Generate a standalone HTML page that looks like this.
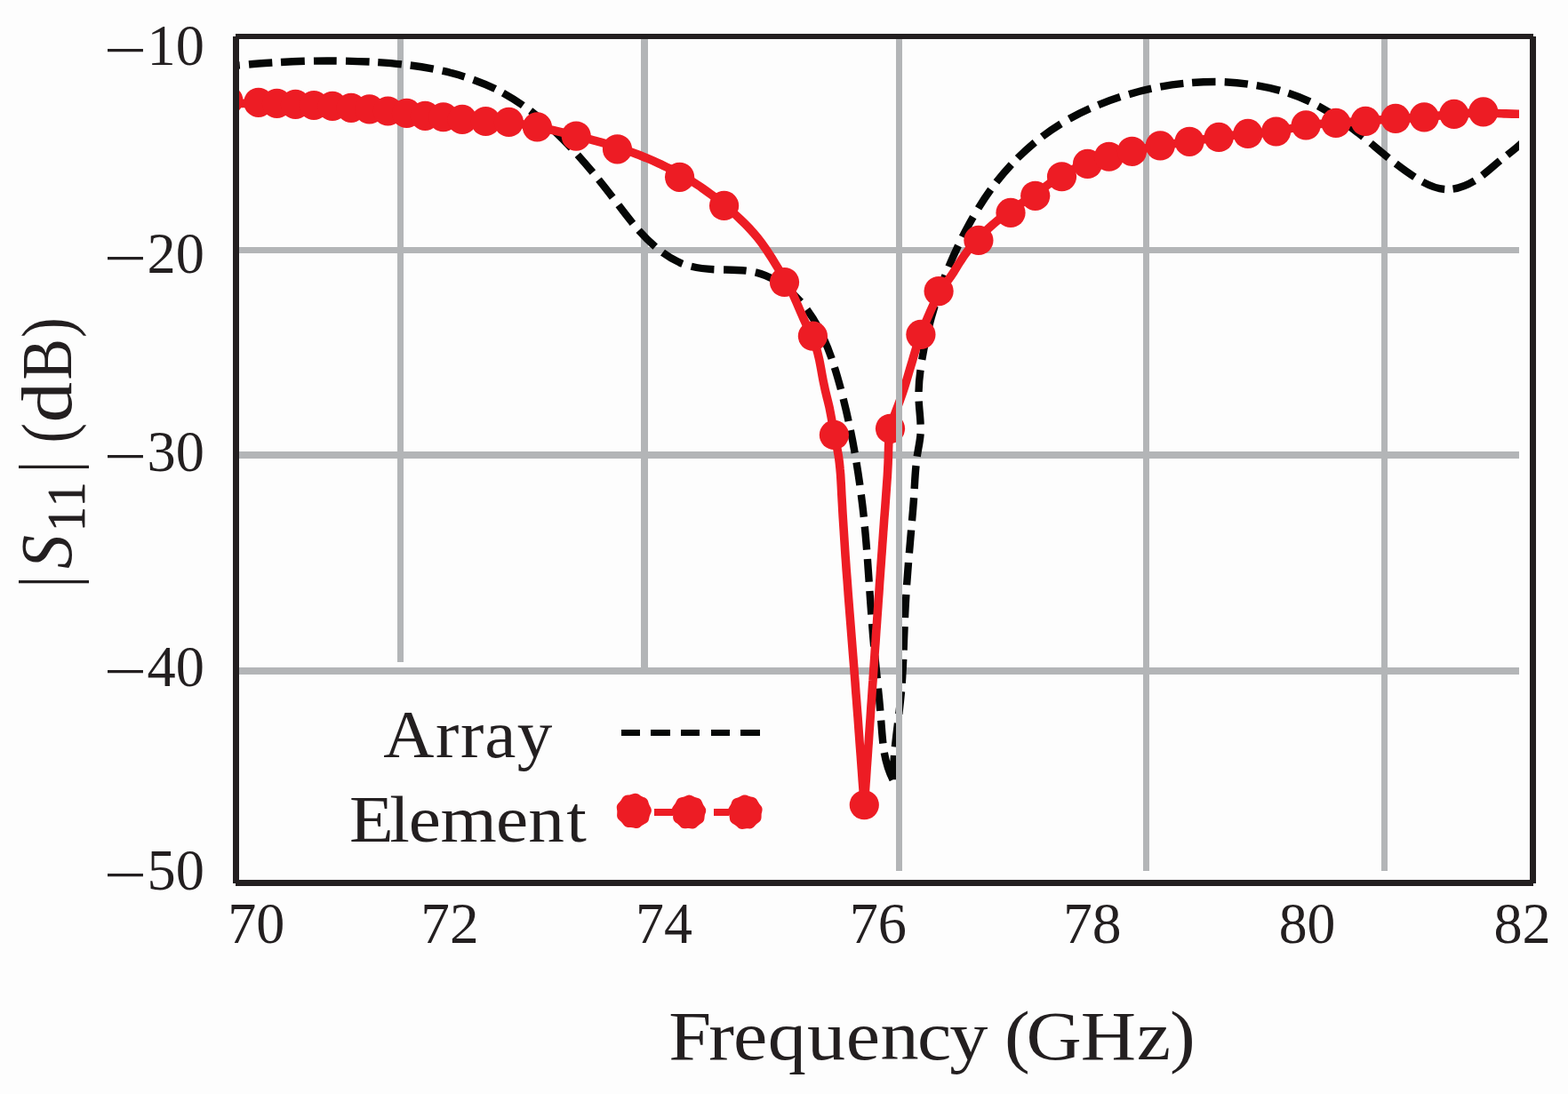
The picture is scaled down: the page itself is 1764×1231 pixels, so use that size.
<!DOCTYPE html>
<html lang="en">
<head>
<meta charset="utf-8">
<title>|S11| (dB) versus Frequency (GHz)</title>
<style>
html,body{margin:0;padding:0;background:#fdfdfd;}
body{width:1764px;height:1231px;overflow:hidden;}
svg{display:block;}
</style>
</head>
<body>
<svg width="1764" height="1231" viewBox="0 0 1764 1231" font-family="'Liberation Serif', serif" fill="#231f20">
<rect width="1764" height="1231" fill="#fdfdfd"/>
<defs><clipPath id="pc"><rect x="265" y="41" width="1444" height="953"/></clipPath></defs>
<g clip-path="url(#pc)">
<g fill="#b3b5b7">
<rect x="265" y="278" width="1444" height="7"/>
<rect x="265" y="508" width="1444" height="8"/>
<rect x="265" y="751" width="1444" height="8"/>
<rect x="447" y="42" width="7" height="703"/>
<rect x="721" y="42" width="8" height="717"/>
<rect x="1286" y="42" width="7" height="938"/>
<rect x="1554" y="42" width="7" height="938"/>
</g>
<path d="M243.6 75.9C252.3 75.0 261.0 74.1 269.8 73.4M280.0 72.5C288.7 71.7 297.5 71.1 306.3 70.5M316.0 70.0C324.9 69.5 333.9 69.1 342.8 68.8M353.0 68.6C361.6 68.4 370.1 68.4 378.7 68.5M389.0 68.6C397.8 68.8 406.7 69.1 415.6 69.5M425.2 70.1C434.1 70.7 443.0 71.4 451.9 72.4M461.7 73.5C470.4 74.6 479.0 76.0 487.6 77.6M497.7 79.7C506.1 81.6 514.4 83.8 522.7 86.4M532.5 89.7C540.9 92.7 549.2 96.1 557.2 100.1M565.9 104.6C573.6 108.9 581.1 113.5 588.3 118.6M596.7 124.7C603.6 129.9 610.3 135.4 616.8 141.2M624.5 148.2C630.8 154.2 636.9 160.3 642.8 166.6M649.8 174.2C655.6 180.7 661.3 187.3 666.9 194.0M673.5 202.1C678.8 208.7 684.1 215.4 689.2 222.1M695.9 230.8C701.1 237.7 706.4 244.6 711.9 251.3M718.6 259.2C724.4 265.7 730.6 271.9 737.2 277.6M745.5 284.2C752.4 289.3 759.8 293.7 767.8 296.8M777.7 299.8C786.1 301.9 794.8 302.8 803.4 303.2M814.1 303.5C822.6 303.6 831.1 303.6 839.6 304.6M849.8 306.4C858.2 308.4 866.3 311.9 873.7 316.4M881.8 321.8C888.7 327.0 895.1 333.0 900.8 339.5M907.8 348.2C913.0 355.1 917.6 362.6 921.6 370.2M926.1 379.4C929.7 387.3 932.9 395.4 935.7 403.5M938.9 413.4C941.5 421.6 943.8 429.8 946.0 438.0M948.7 448.8C950.8 457.1 952.8 465.5 954.6 474.0M956.8 484.2C958.6 492.7 960.2 501.2 961.7 509.7M963.5 520.4C964.9 528.9 966.2 537.5 967.4 546.0M968.8 556.6C969.9 565.0 970.9 573.4 971.8 581.8M972.8 592.5C973.7 601.2 974.4 610.0 975.1 618.7M975.9 629.0C976.5 637.6 977.1 646.1 977.7 654.7M978.4 665.0C979.0 673.8 979.6 682.7 980.3 691.5M981.1 702.0C981.7 710.5 982.4 718.9 983.2 727.4M984.2 737.6C985.0 746.2 985.9 754.8 986.8 763.4M987.9 774.6C988.8 783.0 989.6 791.4 990.3 799.9M991.2 810.7C991.9 819.3 992.4 827.9 993.4 836.5M994.8 846.9C996.7 857.4 999.7 867.8 1004.5 877.3M1004.6 877.2C1004.7 868.1 1005.2 859.0 1006.0 850.0M1006.9 840.5C1007.8 831.6 1008.9 822.6 1010.0 813.7M1011.3 803.5C1012.3 795.1 1013.2 786.7 1014.0 778.2M1014.7 768.7C1015.4 759.8 1015.8 750.8 1016.2 741.8M1016.6 731.6C1016.9 722.8 1017.2 713.9 1017.6 705.1M1018.0 695.1C1018.4 686.4 1018.9 677.6 1019.4 668.9M1020.1 658.2C1020.7 649.8 1021.3 641.4 1022.0 633.0M1022.9 622.3C1023.6 613.7 1024.4 605.1 1025.1 596.5M1026.0 586.0C1026.8 577.4 1027.5 568.8 1028.1 560.1M1028.7 549.9C1029.2 541.3 1029.6 532.6 1030.5 524.0M1031.7 513.6C1033.0 505.1 1035.0 496.7 1035.6 488.1M1035.6 477.7C1035.3 468.9 1034.1 460.2 1033.7 451.5M1033.5 441.0C1033.7 432.8 1034.4 424.6 1035.5 416.4M1037.2 404.8C1038.6 396.3 1040.3 387.8 1042.2 379.3M1044.6 369.2C1046.7 360.8 1049.0 352.5 1051.6 344.2M1054.7 334.3C1057.4 326.0 1060.4 317.9 1063.5 309.8M1067.4 300.2C1070.7 292.2 1074.3 284.2 1078.0 276.4M1082.7 266.7C1086.5 259.1 1090.6 251.5 1094.8 244.1M1100.6 234.4C1105.0 227.2 1109.7 220.1 1114.6 213.3M1120.9 204.9C1126.2 198.1 1131.9 191.5 1137.8 185.1M1144.8 177.9C1151.0 171.7 1157.5 165.8 1164.2 160.2M1172.5 153.7C1179.2 148.5 1186.3 143.7 1193.5 139.3M1202.9 133.7C1210.5 129.5 1218.2 125.6 1226.1 122.1M1235.6 118.1C1243.7 114.8 1251.9 111.8 1260.2 109.1M1270.1 106.1C1278.4 103.7 1286.8 101.5 1295.3 99.7M1305.4 97.7C1314.0 96.1 1322.7 94.8 1331.4 93.9M1341.1 93.0C1349.9 92.3 1358.7 92.0 1367.5 92.0M1377.7 92.3C1386.5 92.7 1395.2 93.4 1403.8 94.6M1413.7 96.1C1422.5 97.6 1431.3 99.5 1439.9 101.9M1449.4 104.8C1457.7 107.5 1465.7 110.7 1473.6 114.4M1482.9 119.2C1490.6 123.3 1498.0 127.9 1505.1 132.8M1513.2 138.5C1520.3 143.5 1527.1 148.9 1533.8 154.3M1542.1 161.1C1548.8 166.7 1555.4 172.3 1562.1 177.7M1570.3 184.2C1577.2 189.5 1584.2 194.6 1591.5 199.3M1600.4 204.6C1608.1 208.8 1616.4 212.3 1625.2 213.0M1634.6 212.7C1643.2 211.4 1651.4 207.9 1658.9 203.4M1667.6 197.4C1674.5 192.1 1680.8 186.3 1687.5 180.8M1695.6 174.5C1702.5 169.1 1709.4 163.7 1715.6 157.4" fill="none" stroke="#050706" stroke-width="8.4"/>
<path d="M258.0 116.8C262.7 116.6 267.3 116.5 272.0 116.4C276.7 116.3 281.4 116.2 286.0 116.2C290.7 116.2 295.4 116.2 300.1 116.3C304.7 116.3 309.4 116.4 314.1 116.6C318.7 116.7 323.4 116.9 328.1 117.1C332.8 117.2 337.4 117.5 342.1 117.7C346.8 117.9 351.4 118.2 356.1 118.5C360.8 118.8 365.4 119.1 370.1 119.4C374.8 119.7 379.4 120.0 384.1 120.4C388.7 120.7 393.4 121.1 398.1 121.5C402.7 121.8 407.4 122.2 412.0 122.7C416.7 123.1 421.3 123.5 426.0 124.0C430.6 124.4 435.3 124.9 439.9 125.4C444.6 125.9 449.2 126.5 453.9 127.0C458.5 127.5 463.2 128.1 467.8 128.6C472.4 129.2 477.1 129.7 481.7 130.3C486.4 130.8 491.0 131.4 495.6 131.9C500.3 132.4 504.9 132.9 509.6 133.3C514.2 133.8 518.9 134.2 523.6 134.6C528.2 135.0 532.9 135.4 537.5 135.7C542.2 136.0 546.9 136.3 551.5 136.6C556.2 136.8 560.9 137.1 565.5 137.4C570.2 137.8 574.8 138.2 579.5 138.8C584.1 139.3 588.7 140.0 593.4 140.8C598.0 141.6 602.6 142.4 607.1 143.3C611.7 144.3 616.3 145.3 620.9 146.3C625.4 147.3 630.0 148.4 634.5 149.5C639.1 150.5 643.6 151.6 648.1 152.7C652.7 153.9 657.2 155.0 661.7 156.2C666.2 157.4 670.8 158.6 675.3 159.9C679.8 161.2 684.2 162.5 688.7 163.9C693.2 165.2 697.6 166.7 702.0 168.2C706.5 169.7 710.9 171.3 715.2 172.9C719.6 174.6 724.0 176.3 728.3 178.1C732.6 179.9 736.9 181.8 741.1 183.8C745.3 185.7 749.5 187.8 753.7 189.9C757.9 192.1 762.0 194.3 766.0 196.6C770.1 198.9 774.1 201.3 778.1 203.8C782.0 206.3 785.9 208.8 789.8 211.5C793.6 214.2 797.4 216.9 801.1 219.7C804.9 222.5 808.5 225.4 812.1 228.4C815.7 231.4 819.3 234.4 822.8 237.5C826.3 240.6 829.8 243.8 833.1 247.0C836.5 250.2 839.8 253.5 843.0 256.9C846.2 260.3 849.3 263.8 852.3 267.5C855.2 271.1 858.0 274.9 860.6 278.7C863.3 282.6 865.8 286.5 868.3 290.4C870.8 294.4 873.2 298.4 875.7 302.4C878.1 306.4 880.6 310.3 882.9 314.4C885.3 318.4 887.6 322.5 889.8 326.6C891.9 330.8 893.9 335.0 895.7 339.3C897.6 343.6 899.4 347.9 901.2 352.2C903.0 356.5 904.9 360.8 907.0 365.0C909.1 369.2 911.3 373.3 913.2 377.5C915.2 381.8 916.8 386.2 918.1 390.7C919.5 395.1 920.6 399.7 921.6 404.2C922.5 408.8 923.4 413.4 924.2 418.0C925.0 422.6 925.8 427.2 926.8 431.8C927.7 436.4 928.7 440.9 929.9 445.5C931.0 450.0 932.2 454.5 933.2 459.1C934.1 463.7 935.0 468.3 935.8 472.9C936.6 477.5 937.4 482.1 938.2 486.7C939.1 491.3 940.0 495.9 941.0 500.4C941.9 505.0 942.8 509.6 943.5 514.2C944.2 518.8 944.7 523.5 945.1 528.2C945.6 532.8 945.9 537.5 946.1 542.1C946.4 546.8 946.6 551.5 946.8 556.1C947.1 560.8 947.3 565.5 947.6 570.1C947.8 574.8 948.1 579.5 948.4 584.1C948.7 588.8 949.0 593.5 949.3 598.1C949.6 602.8 949.9 607.5 950.2 612.1C950.5 616.8 950.8 621.5 951.1 626.1C951.5 630.8 951.8 635.4 952.1 640.1C952.5 644.8 952.8 649.4 953.2 654.1C953.5 658.7 953.9 663.4 954.2 668.1C954.6 672.7 954.9 677.4 955.3 682.1C955.7 686.7 956.0 691.4 956.4 696.0C956.8 700.7 957.1 705.3 957.5 710.0C957.9 714.7 958.2 719.3 958.6 724.0C959.0 728.6 959.3 733.3 959.7 738.0C960.1 742.6 960.4 747.3 960.8 751.9C961.2 756.6 961.5 761.3 961.9 765.9C962.2 770.6 962.6 775.2 962.9 779.9C963.3 784.6 963.7 789.2 964.0 793.9C964.4 798.5 964.7 803.2 965.1 807.9C965.4 812.5 965.8 817.2 966.1 821.9C966.5 826.5 966.8 831.2 967.1 835.8C967.5 840.5 967.8 845.2 968.2 849.8C968.5 854.5 968.9 859.1 969.2 863.8C969.6 868.5 969.9 873.1 970.2 877.8C970.6 882.4 970.9 887.1 971.3 891.8C971.6 896.4 972.0 901.1 972.3 905.8C972.6 901.1 973.0 896.4 973.3 891.8C973.6 887.1 973.9 882.5 974.3 877.8C974.6 873.2 974.9 868.5 975.2 863.8C975.5 859.2 975.9 854.5 976.2 849.9C976.5 845.2 976.8 840.6 977.2 835.9C977.5 831.3 977.8 826.6 978.1 821.9C978.4 817.3 978.8 812.6 979.1 808.0C979.4 803.3 979.7 798.7 980.0 794.0C980.4 789.4 980.7 784.7 981.0 780.0C981.3 775.4 981.6 770.7 982.0 766.1C982.3 761.4 982.6 756.8 982.9 752.1C983.3 747.5 983.6 742.8 983.9 738.1C984.2 733.5 984.5 728.8 984.9 724.2C985.2 719.5 985.5 714.9 985.8 710.2C986.2 705.6 986.5 700.9 986.8 696.2C987.1 691.6 987.5 686.9 987.8 682.3C988.1 677.6 988.4 673.0 988.8 668.3C989.1 663.7 989.4 659.0 989.7 654.3C990.1 649.7 990.4 645.0 990.7 640.4C991.1 635.7 991.4 631.1 991.7 626.4C992.1 621.8 992.4 617.1 992.7 612.4C993.1 607.8 993.4 603.1 993.7 598.5C994.1 593.8 994.4 589.2 994.7 584.5C995.1 579.9 995.4 575.2 995.8 570.6C996.1 565.9 996.5 561.2 996.8 556.6C997.1 551.9 997.5 547.3 997.8 542.6C998.2 538.0 998.5 533.3 998.7 528.7C999.0 524.0 999.2 519.3 999.3 514.7C999.5 510.0 999.5 505.3 999.7 500.7C999.9 496.0 1000.2 491.3 1000.9 486.7C1001.6 482.1 1002.8 477.6 1004.2 473.1C1005.6 468.7 1007.3 464.3 1008.9 460.0C1010.6 455.6 1012.3 451.2 1013.8 446.8C1015.3 442.4 1016.8 438.0 1018.2 433.5C1019.6 429.1 1020.9 424.6 1022.2 420.1C1023.5 415.7 1024.8 411.2 1026.2 406.7C1027.5 402.2 1028.8 397.8 1030.2 393.3C1031.6 388.9 1033.1 384.4 1034.7 380.0C1036.2 375.6 1037.9 371.3 1039.6 366.9C1041.4 362.6 1043.2 358.3 1045.1 354.0C1046.9 349.8 1048.9 345.5 1050.8 341.3C1052.8 337.0 1054.8 332.8 1057.2 328.8C1059.6 324.8 1062.3 321.0 1065.1 317.3C1067.9 313.5 1070.6 309.7 1073.1 305.8C1075.6 301.8 1077.9 297.8 1080.5 293.9C1083.0 289.9 1085.7 286.1 1088.5 282.4C1091.4 278.7 1094.4 275.1 1097.5 271.7C1100.6 268.2 1103.8 264.8 1107.2 261.6C1110.5 258.3 1114.0 255.2 1117.5 252.1C1121.1 249.1 1124.7 246.2 1128.4 243.3C1132.1 240.5 1135.9 237.8 1139.8 235.1C1143.6 232.5 1147.5 229.9 1151.4 227.3C1155.3 224.8 1159.2 222.2 1163.0 219.5C1166.8 216.8 1170.6 214.0 1174.3 211.3C1178.1 208.5 1181.8 205.7 1185.7 203.1C1189.5 200.4 1193.4 197.9 1197.5 195.6C1201.5 193.3 1205.7 191.1 1209.9 189.2C1214.2 187.2 1218.5 185.5 1222.9 183.8C1227.2 182.2 1231.6 180.6 1236.1 179.2C1240.5 177.8 1245.0 176.6 1249.5 175.4C1254.1 174.2 1258.6 173.1 1263.1 172.1C1267.7 171.0 1272.3 170.1 1276.8 169.2C1281.4 168.3 1286.0 167.4 1290.6 166.6C1295.2 165.8 1299.8 165.0 1304.4 164.2C1309.0 163.5 1313.6 162.8 1318.2 162.1C1322.9 161.4 1327.5 160.7 1332.1 160.0C1336.7 159.4 1341.3 158.7 1346.0 158.0C1350.6 157.4 1355.2 156.7 1359.8 156.1C1364.4 155.4 1369.1 154.7 1373.7 154.1C1378.3 153.4 1382.9 152.8 1387.5 152.2C1392.2 151.6 1396.8 151.0 1401.5 150.6C1406.1 150.2 1410.8 150.0 1415.4 149.7C1420.1 149.5 1424.7 149.2 1429.4 148.7C1434.0 148.3 1438.6 147.5 1443.2 146.6C1447.8 145.7 1452.3 144.6 1456.9 143.6C1461.5 142.6 1466.0 141.7 1470.6 141.0C1475.3 140.3 1479.9 139.9 1484.6 139.5C1489.2 139.2 1493.9 139.0 1498.5 138.8C1503.2 138.5 1507.9 138.2 1512.5 137.9C1517.2 137.5 1521.8 137.2 1526.5 136.8C1531.1 136.4 1535.8 136.1 1540.4 135.7C1545.1 135.4 1549.8 135.1 1554.4 134.8C1559.1 134.5 1563.7 134.3 1568.4 134.0C1573.0 133.7 1577.7 133.4 1582.4 133.1C1587.0 132.8 1591.7 132.5 1596.3 132.1C1601.0 131.8 1605.6 131.4 1610.3 130.9C1614.9 130.5 1619.6 130.0 1624.2 129.6C1628.9 129.1 1633.5 128.7 1638.2 128.3C1642.8 128.0 1647.5 127.6 1652.1 127.4C1656.8 127.1 1661.4 127.0 1666.1 127.0C1670.8 127.0 1675.4 127.1 1680.1 127.3C1684.8 127.4 1689.4 127.7 1694.1 127.9C1698.8 128.1 1703.4 128.2 1708.1 128.2C1712.8 128.2 1717.4 128.1 1722.1 127.7" fill="none" stroke="#ed1c24" stroke-width="9.6" stroke-linejoin="miter"/>
<g fill="#ed1c24">
<circle cx="256.8" cy="112.9" r="16.6"/>
<circle cx="290.8" cy="115.3" r="16.6"/>
<circle cx="311.5" cy="116.4" r="16.6"/>
<circle cx="332.4" cy="117.4" r="16.6"/>
<circle cx="353.1" cy="118.5" r="16.6"/>
<circle cx="374.0" cy="119.4" r="16.6"/>
<circle cx="395.0" cy="121.3" r="16.6"/>
<circle cx="415.6" cy="122.9" r="16.6"/>
<circle cx="436.4" cy="125.0" r="16.6"/>
<circle cx="457.5" cy="127.4" r="16.6"/>
<circle cx="478.3" cy="130.3" r="16.6"/>
<circle cx="498.75" cy="131.75" r="16.6"/>
<circle cx="520.0" cy="134.4" r="16.6"/>
<circle cx="546.4" cy="136.5" r="16.6"/>
<circle cx="572.4" cy="137.4" r="16.6"/>
<circle cx="604.4" cy="142.9" r="16.6"/>
<circle cx="648.2" cy="153.1" r="16.6"/>
<circle cx="694.5" cy="167.8" r="16.6"/>
<circle cx="764.6" cy="199.3" r="16.6"/>
<circle cx="814.6" cy="231.4" r="16.6"/>
<circle cx="882.5" cy="317.5" r="16.6"/>
<circle cx="914.4" cy="378.2" r="16.6"/>
<circle cx="938.4" cy="489.4" r="16.6"/>
<circle cx="972.3" cy="905.75" r="16.6"/>
<circle cx="1001.5" cy="482.3" r="16.6"/>
<circle cx="1035.9" cy="376.4" r="16.6"/>
<circle cx="1056.1" cy="327.6" r="16.6"/>
<circle cx="1100.9" cy="270.4" r="16.6"/>
<circle cx="1137.0" cy="239.4" r="16.6"/>
<circle cx="1164.7" cy="220.3" r="16.6"/>
<circle cx="1194.5" cy="198.75" r="16.6"/>
<circle cx="1223.5" cy="184.4" r="16.6"/>
<circle cx="1247.6" cy="176.25" r="16.6"/>
<circle cx="1273.5" cy="170.3" r="16.6"/>
<circle cx="1305.3" cy="163.9" r="16.6"/>
<circle cx="1338.1" cy="159.3" r="16.6"/>
<circle cx="1371.2" cy="154.4" r="16.6"/>
<circle cx="1403.9" cy="150.4" r="16.6"/>
<circle cx="1435.6" cy="148.0" r="16.6"/>
<circle cx="1469.2" cy="140.9" r="16.6"/>
<circle cx="1502.9" cy="138.4" r="16.6"/>
<circle cx="1536.2" cy="136.4" r="16.6"/>
<circle cx="1570.0" cy="133.4" r="16.6"/>
<circle cx="1602.25" cy="131.9" r="16.6"/>
<circle cx="1635.8" cy="128.4" r="16.6"/>
<circle cx="1668.75" cy="125.9" r="16.6"/>
</g>
<g fill="#b3b5b7"><rect x="1008" y="42" width="7" height="938"/></g>
</g>
<g fill="#231f20">
<rect x="262" y="41" width="7" height="953"/>
<rect x="1721" y="41" width="7" height="953"/>
<rect x="265" y="38" width="1460" height="6"/>
<rect x="265" y="990" width="1460" height="7"/>
</g>
<g fill="#050706">
<rect x="699" y="821" width="21" height="7"/>
<rect x="732" y="821" width="22" height="7"/>
<rect x="766" y="821" width="21" height="7"/>
<rect x="800" y="821" width="21" height="7"/>
<rect x="833" y="821" width="22" height="7"/>
</g>
<g fill="#ed1c24">
<rect x="736" y="910" width="21" height="8"/>
<rect x="803" y="910" width="17" height="8"/>
<path d="M732.9 912.5L732.5 914.2L731.8 915.8L731.1 917.4L730.6 918.9L730.3 920.6L729.9 922.3L729.3 923.9L728.2 925.3L726.8 926.3L725.3 927.1L723.8 927.9L722.4 928.7L721.1 929.8L719.7 930.9L718.1 931.7L716.4 932.1L714.7 932.0L713.0 931.6L711.4 931.2L709.7 931.0L708.1 930.9L706.3 930.9L704.6 930.5L703.1 929.7L701.8 928.5L700.7 927.1L699.7 925.8L698.6 924.6L697.4 923.4L696.1 922.3L695.0 920.9L694.3 919.3L694.1 917.6L694.2 915.8L694.3 914.1L694.3 912.5L694.0 910.8L693.8 909.1L693.8 907.4L694.3 905.7L695.3 904.2L696.5 903.0L697.6 901.7L698.6 900.4L699.5 899.0L700.4 897.5L701.6 896.2L703.1 895.3L704.7 894.8L706.5 894.6L708.1 894.4L709.7 894.0L711.3 893.5L713.0 893.0L714.7 892.7L716.4 892.9L718.1 893.6L719.5 894.6L720.9 895.5L722.4 896.3L723.9 896.9L725.6 897.5L727.0 898.5L728.2 899.7L729.0 901.3L729.5 903.0L730.0 904.6L730.6 906.1L731.4 907.6L732.2 909.1L732.8 910.8Z"/>
<path d="M794.0 913.9L793.4 915.5L792.9 917.1L792.7 918.6L792.5 920.3L792.3 922.0L791.8 923.6L790.8 925.0L789.5 926.1L788.1 927.0L786.7 927.9L785.5 928.9L784.3 930.0L783.1 931.2L781.6 932.1L780.0 932.6L778.3 932.6L776.6 932.3L775.0 932.1L773.4 932.1L771.8 932.3L770.1 932.3L768.4 932.1L766.8 931.4L765.5 930.3L764.4 929.1L763.3 927.9L762.1 926.8L760.7 925.9L759.4 924.9L758.2 923.6L757.5 922.1L757.2 920.4L757.1 918.7L757.1 917.1L756.8 915.5L756.4 913.9L756.0 912.2L755.9 910.5L756.3 908.9L757.2 907.4L758.2 906.1L759.2 904.8L760.0 903.4L760.7 901.9L761.5 900.4L762.5 899.1L763.9 898.1L765.5 897.5L767.2 897.1L768.8 896.8L770.3 896.2L771.8 895.5L773.3 894.9L775.0 894.5L776.7 894.7L778.3 895.2L779.8 896.0L781.2 896.8L782.7 897.3L784.3 897.8L786.0 898.3L787.5 899.1L788.7 900.2L789.5 901.7L790.2 903.3L790.8 904.8L791.6 906.2L792.5 907.5L793.4 909.0L794.1 910.5L794.2 912.2Z"/>
<path d="M857.1 913.9L856.7 915.5L856.6 917.1L856.6 918.8L856.5 920.5L856.1 922.2L855.3 923.7L854.1 924.9L852.7 925.9L851.4 926.9L850.3 928.1L849.2 929.3L848.1 930.6L846.7 931.6L845.1 932.2L843.4 932.4L841.6 932.3L840.0 932.2L838.4 932.4L836.8 932.7L835.0 932.9L833.3 932.8L831.7 932.2L830.3 931.3L829.1 930.1L827.8 929.0L826.5 928.1L825.1 927.2L823.6 926.3L822.4 925.1L821.5 923.7L821.0 922.0L820.8 920.3L820.6 918.7L820.2 917.1L819.6 915.5L819.1 913.9L818.9 912.2L819.2 910.5L819.9 908.9L820.8 907.5L821.7 906.1L822.4 904.7L823.0 903.1L823.6 901.5L824.6 900.1L825.9 898.9L827.4 898.2L829.1 897.7L830.6 897.2L832.1 896.5L833.5 895.7L835.0 894.9L836.7 894.4L838.4 894.4L840.1 894.8L841.6 895.5L843.2 896.1L844.7 896.5L846.4 896.8L848.1 897.2L849.6 897.9L850.9 898.9L851.9 900.4L852.7 901.9L853.5 903.3L854.4 904.7L855.5 905.9L856.5 907.3L857.3 908.8L857.6 910.5L857.5 912.2Z"/>
</g>
<g style="font-kerning:none">
<text transform="translate(0 852.00) scale(1.0331 1)" x="417.35 474.32 501.47 527.90 563.18" y="0" font-size="76.60">Array</text>
<text transform="translate(0 946.50) scale(1.0862 1)" x="361.75 403.44 423.36 456.07 513.82 547.17 586.67" y="0" font-size="75.00">Element</text>
<text><tspan x="116.72" y="78.03" font-size="64.25" textLength="48.48" lengthAdjust="spacingAndGlyphs">−</tspan><tspan x="165.45" y="73.20" font-size="66.30" textLength="64.40" lengthAdjust="spacingAndGlyphs">10</tspan></text>
<text><tspan x="116.72" y="311.53" font-size="64.25" textLength="48.48" lengthAdjust="spacingAndGlyphs">−</tspan><tspan x="165.45" y="306.70" font-size="66.30" textLength="64.40" lengthAdjust="spacingAndGlyphs">20</tspan></text>
<text><tspan x="116.72" y="535.13" font-size="64.25" textLength="48.48" lengthAdjust="spacingAndGlyphs">−</tspan><tspan x="165.45" y="530.30" font-size="66.30" textLength="64.40" lengthAdjust="spacingAndGlyphs">30</tspan></text>
<text><tspan x="116.72" y="776.83" font-size="64.25" textLength="48.48" lengthAdjust="spacingAndGlyphs">−</tspan><tspan x="165.45" y="772.00" font-size="66.30" textLength="64.40" lengthAdjust="spacingAndGlyphs">40</tspan></text>
<text><tspan x="116.72" y="1006.23" font-size="64.25" textLength="48.48" lengthAdjust="spacingAndGlyphs">−</tspan><tspan x="165.45" y="1001.40" font-size="66.30" textLength="64.40" lengthAdjust="spacingAndGlyphs">50</tspan></text>
<text><tspan x="256.27" y="1060.90" font-size="66.30" textLength="64.17" lengthAdjust="spacingAndGlyphs">70</tspan></text>
<text><tspan x="473.19" y="1060.90" font-size="66.30" textLength="65.42" lengthAdjust="spacingAndGlyphs">72</tspan></text>
<text><tspan x="714.99" y="1060.90" font-size="66.30" textLength="63.91" lengthAdjust="spacingAndGlyphs">74</tspan></text>
<text><tspan x="955.66" y="1060.90" font-size="66.30" textLength="64.36" lengthAdjust="spacingAndGlyphs">76</tspan></text>
<text><tspan x="1195.97" y="1060.90" font-size="66.30" textLength="65.63" lengthAdjust="spacingAndGlyphs">78</tspan></text>
<text><tspan x="1438.68" y="1060.90" font-size="66.30" textLength="63.65" lengthAdjust="spacingAndGlyphs">80</tspan></text>
<text><tspan x="1680.45" y="1060.90" font-size="66.30" textLength="64.30" lengthAdjust="spacingAndGlyphs">82</tspan></text>
<text transform="translate(0 1191.80) scale(1.0884 1)" x="691.15 732.43 757.94 793.58 834.18 874.53 910.16 948.24 981.39 1030.56 1038.18 1060.77 1116.99 1174.90 1209.22" y="0" font-size="79.30">Frequency (GHz)</text>
<text transform="translate(80 660) rotate(-90)"><tspan x="-1.43" y="1.09" font-size="87.61" textLength="13.67" lengthAdjust="spacingAndGlyphs">|</tspan><tspan x="19.91" y="0.45" font-size="82.23" textLength="38.02" lengthAdjust="spacingAndGlyphs" font-style="italic">S</tspan><tspan x="62.01" y="14.90" font-size="61.05" textLength="55.63" lengthAdjust="spacingAndGlyphs" stroke="#231f20" stroke-width="0.8" stroke-linejoin="round">11</tspan><tspan x="127.87" y="1.09" font-size="87.61" textLength="13.67" lengthAdjust="spacingAndGlyphs">|</tspan><tspan x="150" y="0" font-size="40"> </tspan><tspan x="161.56" y="0.03" font-size="80.18" textLength="22.30" lengthAdjust="spacingAndGlyphs">(</tspan><tspan x="184.50" y="0.02" font-size="80.16" textLength="45.61" lengthAdjust="spacingAndGlyphs">d</tspan><tspan x="232.49" y="-0.44" font-size="80.28" textLength="46.51" lengthAdjust="spacingAndGlyphs">B</tspan><tspan x="280.09" y="0.03" font-size="80.18" textLength="22.82" lengthAdjust="spacingAndGlyphs">)</tspan></text>
</g>
</svg>
</body>
</html>
